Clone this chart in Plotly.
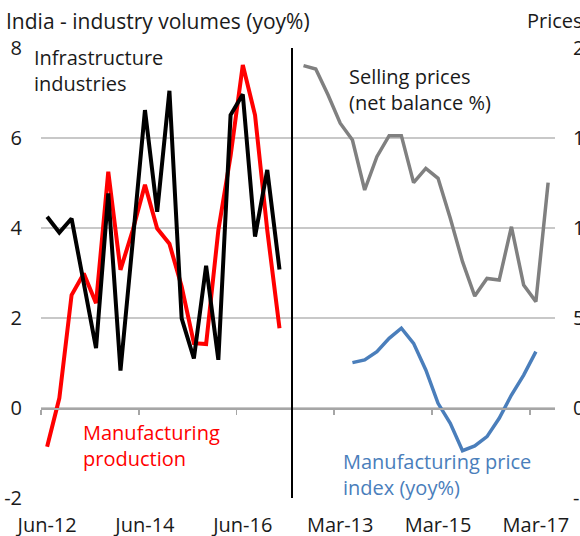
import plotly.graph_objects as go

# ---------------- data ----------------
quarters = ["Jun-12", "Sep-12", "Dec-12", "Mar-13", "Jun-13", "Sep-13", "Dec-13",
            "Mar-14", "Jun-14", "Sep-14", "Dec-14", "Mar-15", "Jun-15", "Sep-15",
            "Dec-15", "Mar-16", "Jun-16", "Sep-16", "Dec-16", "Mar-17", "Jun-17"]

infrastructure = [4.25, 3.90, 4.21, 2.80, 1.33, 4.77, 0.83, 3.70, 6.62, 4.36,
                  7.05, 1.99, 1.10, 3.16, 1.07, 6.51, 6.97, 3.81, 5.29, 3.08]
manufacturing = [-0.86, 0.22, 2.51, 2.99, 2.33, 5.25, 3.07, 3.95, 4.96, 3.99,
                 3.65, 2.70, 1.44, 1.42, 3.95, 5.60, 7.62, 6.51, 3.95, 1.77]
selling_prices = [19.02, 18.83, 17.40, 15.82, 14.89, 12.11, 13.96, 15.13, 15.13,
                  12.52, 13.31, 12.76, 10.54, 8.13, 6.22, 7.20, 7.11, 10.07,
                  6.83, 5.91, 12.52]
price_index = [None, None, None, None, 2.52, 2.67, 3.13, 3.87, 4.43, 3.59, 2.11,
               0.26, -0.85, -2.37, -2.11, -1.59, -0.57, 0.72, 1.83, 3.13, None]

left_xlabels = ["Jun-12", "Jun-14", "Jun-16"]
right_xlabels = ["Mar-13", "Mar-15", "Mar-17"]
left_yticks = [-2, 0, 2, 4, 6, 8]
right_yticks = [-5, 0, 5, 10, 15, 20]

# ---------------- layout helpers ----------------
W, H = 580, 536
ML, MR, MT, MB = 41, 25, 48, 38
PW, PH = W - ML - MR, H - MT - MB
SPLIT = (293 - ML) / PW
FONT = "Open Sans"
TXT = "#1a1a1a"
AXC = "#A6A6A6"


def px(x):
    return (x - ML) / PW


def py(y):
    return (H - MB - y) / PH


idx = {q: i for i, q in enumerate(quarters)}
left_tv = [idx[q] for q in left_xlabels]
right_tv = [idx[q] for q in right_xlabels]

fig = go.Figure()
fig.add_trace(go.Scatter(x=list(range(len(manufacturing))), y=manufacturing,
                         mode="lines", line=dict(color="#FF0000", width=4),
                         xaxis="x", yaxis="y", showlegend=False, hoverinfo="skip"))
fig.add_trace(go.Scatter(x=list(range(len(infrastructure))), y=infrastructure,
                         mode="lines", line=dict(color="#000000", width=4),
                         xaxis="x", yaxis="y", showlegend=False, hoverinfo="skip"))
fig.add_trace(go.Scatter(x=list(range(len(selling_prices))), y=selling_prices,
                         mode="lines", line=dict(color="#808080", width=3.5),
                         xaxis="x2", yaxis="y2", showlegend=False, hoverinfo="skip"))
fig.add_trace(go.Scatter(x=list(range(len(price_index))), y=price_index,
                         mode="lines", line=dict(color="#4A7EBB", width=3.5),
                         xaxis="x2", yaxis="y2", showlegend=False, hoverinfo="skip"))
# empty helper traces so that the decorative overlay axes get drawn
for xa, ya in [("x3", "y"), ("x4", "y2"), ("x2", "y3")]:
    fig.add_trace(go.Scatter(x=[None], y=[None], mode="lines", xaxis=xa, yaxis=ya,
                             showlegend=False, hoverinfo="skip"))

left_range = [-0.5, -0.5 + (293 - 41) / 12.23]
right_range = [-0.86, -0.86 + (555 - 293) / 12.23]

tickfont = dict(family=FONT, size=20, color=TXT)

fig.update_layout(
    width=W, height=H, template="none",
    margin=dict(l=ML, r=MR, t=MT, b=MB, pad=0),
    paper_bgcolor="white", plot_bgcolor="white",
    showlegend=False,
    xaxis=dict(domain=[0, SPLIT], range=left_range, anchor="y",
               tickmode="array", tickvals=left_tv, ticktext=left_xlabels,
               ticks="", showgrid=False, zeroline=False, showline=False,
               tickfont=tickfont, ticklabelstandoff=13),
    xaxis2=dict(domain=[SPLIT, 1], range=right_range, anchor="y2",
                tickmode="array", tickvals=right_tv, ticktext=right_xlabels,
                ticks="", showgrid=False, zeroline=False, showline=False,
                tickfont=tickfont, ticklabelstandoff=13),
    xaxis3=dict(overlaying="x", range=left_range, anchor="free", position=py(408),
                tickmode="array", tickvals=[v - 0.5 for v in left_tv],
                showticklabels=False, ticks="outside", ticklen=5, tickwidth=1.5,
                tickcolor=AXC, showline=True, linecolor=AXC,
                linewidth=1.5, showgrid=False, zeroline=False),
    xaxis4=dict(overlaying="x2", range=right_range, anchor="free", position=py(408),
                tickmode="array", tickvals=[v - 0.5 for v in right_tv],
                showticklabels=False, ticks="outside", ticklen=5, tickwidth=1.5,
                tickcolor=AXC, showline=True, linecolor=AXC,
                linewidth=1.5, showgrid=False, zeroline=False),
    yaxis=dict(domain=[0, 1], range=[-2, 8], anchor="x",
               tickmode="array", tickvals=left_yticks,
               ticktext=[str(v) for v in left_yticks],
               showgrid=True, gridcolor="#C8C8C8", gridwidth=1.5,
               zeroline=False, showline=False, ticks="",
               tickfont=tickfont, ticklabelstandoff=18),
    yaxis2=dict(domain=[0, 1], range=[-5, 20], anchor="x2", side="right",
                tickmode="array", tickvals=right_yticks,
                ticktext=[str(v) for v in right_yticks],
                showgrid=True, gridcolor="#C8C8C8", gridwidth=1.5,
                zeroline=False, showline=False, ticks="",
                tickfont=tickfont, ticklabelstandoff=17),
    yaxis3=dict(overlaying="y2", range=[-5, 20], anchor="x2", side="left",
                showline=True, linecolor="#000000", linewidth=2,
                showticklabels=False, ticks="", showgrid=False, zeroline=False),
)

annots = [
    ("India - industry volumes (yoy%)", 4, 21, TXT, 21),
    ("Prices", 525, 21, TXT, 20),
    ("Infrastructure<br>industries", 32, 70, TXT, 20),
    ("Selling prices<br>(net balance %)", 347, 89.5, TXT, 20),
    ("Manufacturing<br>production", 81, 445.5, "#FF0000", 20),
    ("Manufacturing price<br>index (yoy%)", 341, 474.5, "#4A7EBB", 20),
]
for text, x, y, col, size in annots:
    fig.add_annotation(text=text, x=px(x), y=py(y), xref="paper", yref="paper",
                       xanchor="left", yanchor="middle", align="left",
                       showarrow=False, font=dict(family=FONT, size=size, color=col))

fig.write_html("out.html",
               config={"displayModeBar": False, "staticPlot": True},
               post_script="document.body.style.margin='0px';"
                           "document.body.style.overflow='hidden';")
